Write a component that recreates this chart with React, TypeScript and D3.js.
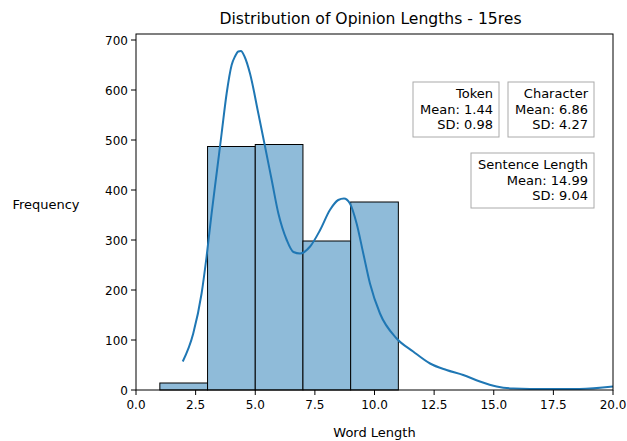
import React from "react";
import * as d3 from "d3";

// histogram bins (word length) and counts
const binEdges = [1, 3, 5, 7, 9, 11];
const binCounts = [14, 487, 491, 298, 376];

// KDE curve
const kdeX = [1.96, 2.4, 2.75, 2.96, 3.17, 3.38, 3.59, 3.8, 4.01, 4.15, 4.29, 4.4, 4.55, 4.78, 5.13, 5.41, 5.69, 5.97, 6.32, 6.6, 6.88, 7.3, 7.72, 8.13, 8.48, 8.72, 8.97, 9.25, 9.53, 9.81, 10.23, 10.93, 11.62, 12.33, 13.02, 13.72, 14.42, 15.12, 15.82, 17.22, 18.6, 20];
const kdeY = [57, 113, 193, 267, 353, 433, 513, 593, 650, 667, 677, 678, 667, 633, 553, 487, 420, 353, 300, 276, 273, 287, 320, 360, 380, 383, 373, 333, 273, 213, 153, 103, 77, 53, 40, 30, 17, 7, 3, 2, 2, 7];

const xTicks = [0, 2.5, 5, 7.5, 10, 12.5, 15, 17.5, 20];
const yTicks = [0, 100, 200, 300, 400, 500, 600, 700];

const statBoxes = [
  { lines: ["Token", "Mean: 1.44", "SD: 0.98"], x: 413, y: 82, w: 86, h: 55 },
  { lines: ["Character", "Mean: 6.86", "SD: 4.27"], x: 508, y: 82, w: 86, h: 55 },
  { lines: ["Sentence Length", "Mean: 14.99", "SD: 9.04"], x: 471, y: 153, w: 123, h: 55 },
];

const W = 627;
const H = 441;
const left = 136;
const right = 613;
const top = 34;
const bottom = 390;
const font = "DejaVu Sans, sans-serif";

export default function App() {
  const x = d3.scaleLinear([0, 20], [left, right]);
  const y = d3.scaleLinear([0, 712], [bottom, top]);
  const line = d3
    .line<number>()
    .x((d) => x(d))
    .y((_, i) => y(kdeY[i]))
    .curve(d3.curveMonotoneX);

  return (
    <svg width={W} height={H} style={{ position: "absolute", left: 0, top: 0 }} fontFamily={font}>
      <rect width={W} height={H} fill="white" />
      <g>
        {binCounts.map((c, i) => (
          <rect
            key={i}
            x={x(binEdges[i])}
            y={y(c)}
            width={x(binEdges[i + 1]) - x(binEdges[i])}
            height={y(0) - y(c)}
            fill="#8fbbd9"
            stroke="#000"
            strokeWidth={1}
          />
        ))}
      </g>
      <path d={line(kdeX) as string} fill="none" stroke="#1f77b4" strokeWidth={2} />
      <rect x={left} y={top} width={right - left} height={bottom - top} fill="none" stroke="#000" strokeWidth={1} />
      {xTicks.map((t) => (
        <g key={t}>
          <line x1={x(t)} x2={x(t)} y1={bottom} y2={bottom + 5} stroke="#000" />
          <text x={x(t)} y={bottom + 19} textAnchor="middle" fontSize={12}>
            {t.toFixed(1)}
          </text>
        </g>
      ))}
      {yTicks.map((t) => (
        <g key={t}>
          <line x1={left - 5} x2={left} y1={y(t)} y2={y(t)} stroke="#000" />
          <text x={left - 8} y={y(t) + 4.5} textAnchor="end" fontSize={12}>
            {t}
          </text>
        </g>
      ))}
      <text x={(left + right) / 2 - 4} y={24} textAnchor="middle" fontSize={15.6}>
        Distribution of Opinion Lengths - 15res
      </text>
      <text x={(left + right) / 2} y={437} textAnchor="middle" fontSize={13}>
        Word Length
      </text>
      <text x={46} y={209} textAnchor="middle" fontSize={13}>
        Frequency
      </text>
      {statBoxes.map((b, i) => (
        <g key={i}>
          <rect x={b.x} y={b.y} width={b.w} height={b.h} fill="white" stroke="#aaa" strokeWidth={1} />
          {b.lines.map((l, j) => (
            <text key={j} x={b.x + b.w - 6} y={b.y + 16 + j * 15.5} textAnchor="end" fontSize={13}>
              {l}
            </text>
          ))}
        </g>
      ))}
    </svg>
  );
}
